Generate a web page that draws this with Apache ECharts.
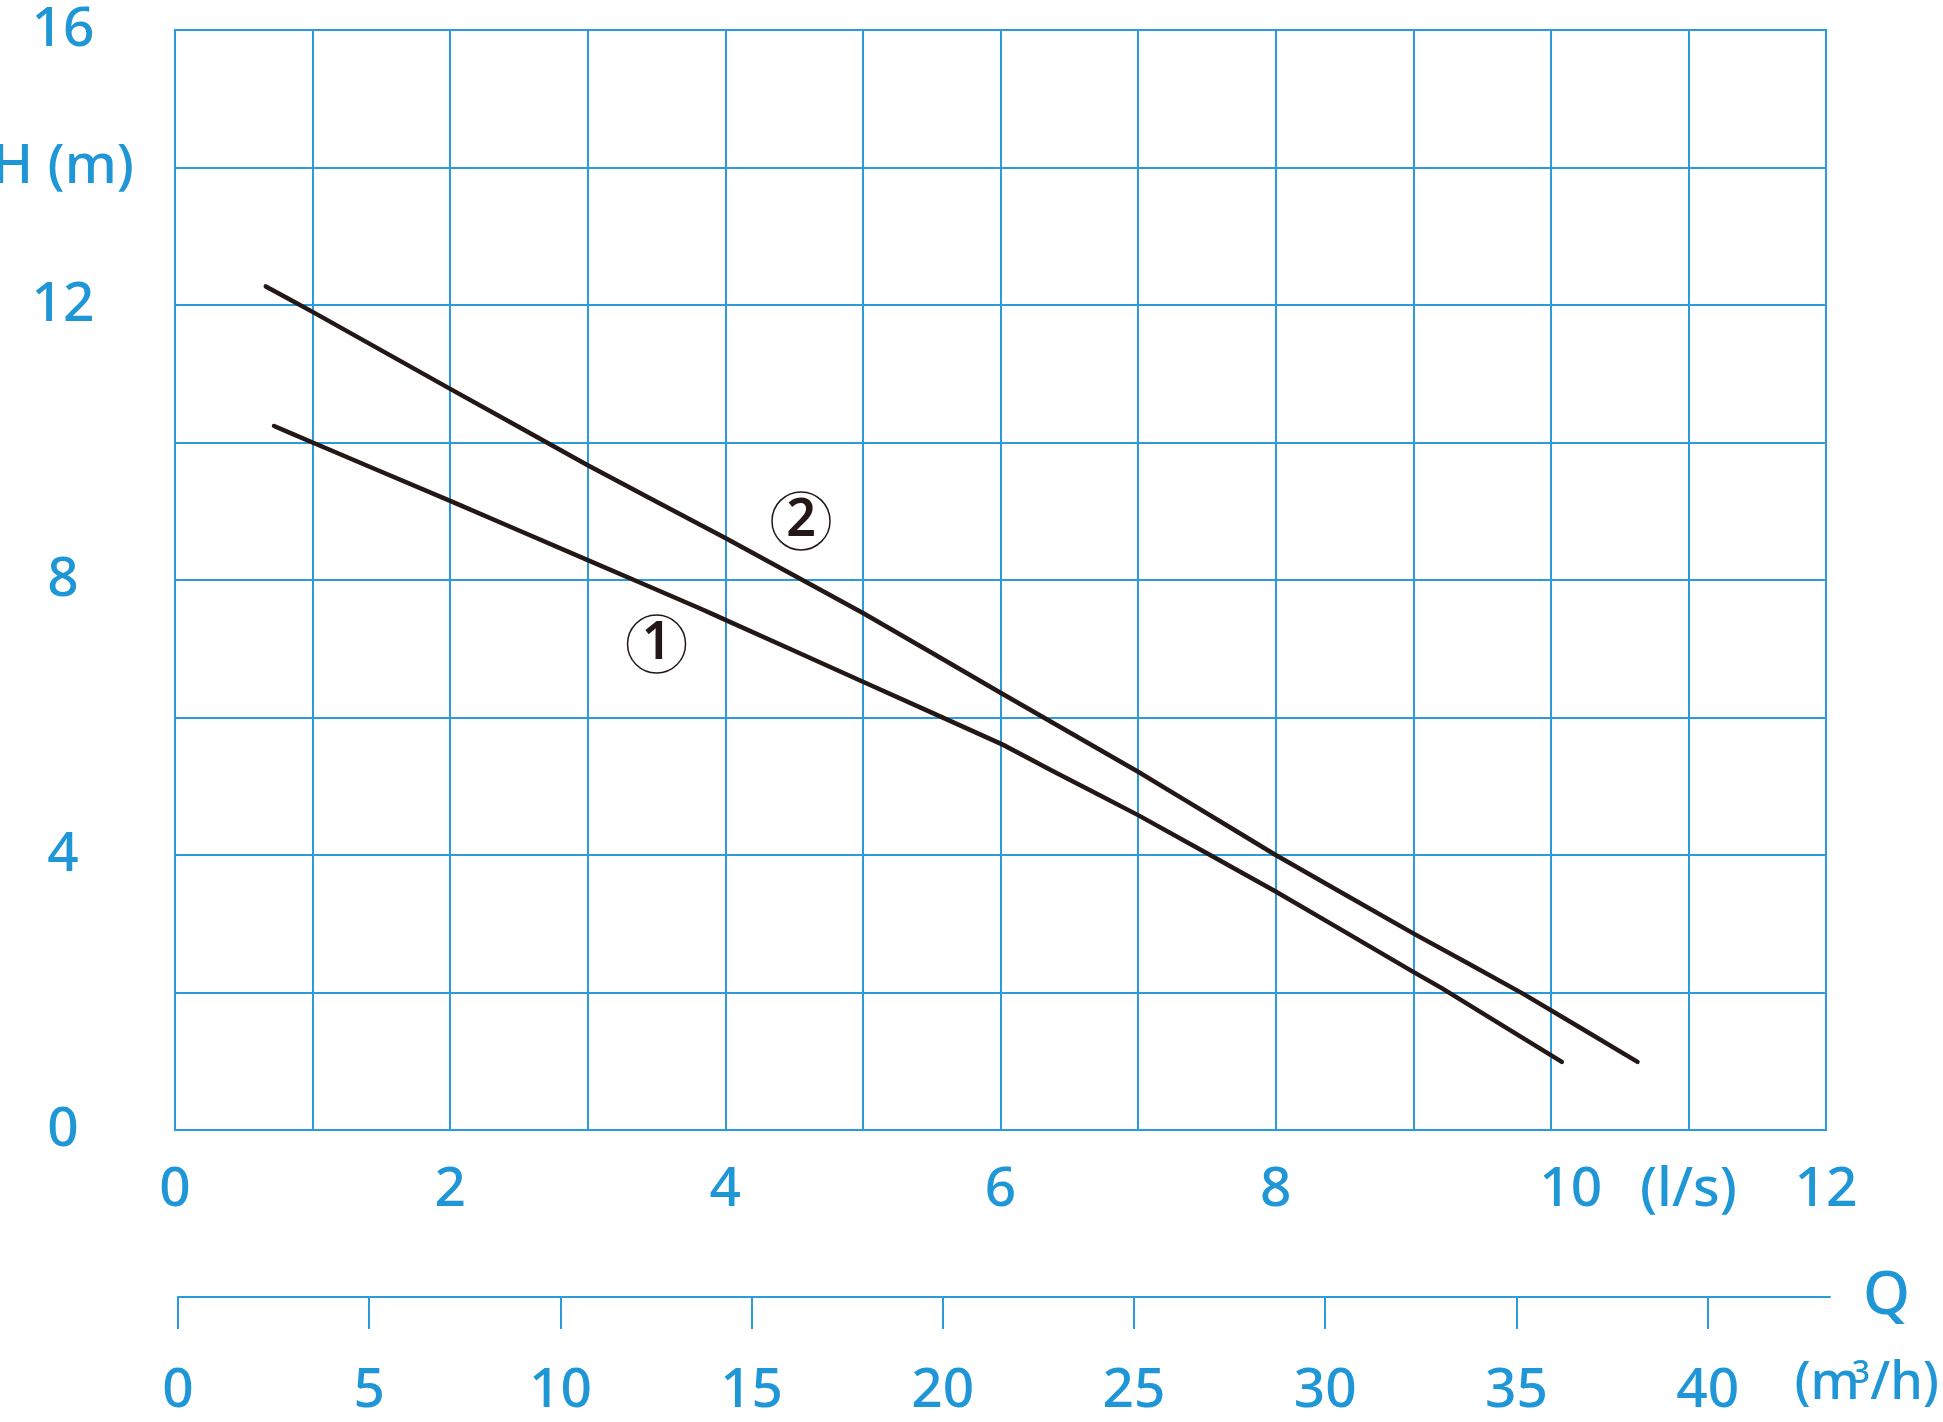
<!DOCTYPE html>
<html>
<head>
<meta charset="utf-8">
<script src="https://cdn.jsdelivr.net/npm/echarts@6/dist/echarts.min.js"></script>
<style>
html,body{margin:0;padding:0;background:#fff;}
#chart{width:1943px;height:1422px;}
</style>
</head>
<body>
<div id="chart"></div>
<script>
// ---- data ----
const curve1Q = [0.72, 1, 2, 3, 3.8, 4, 5, 6, 6.4, 7, 8, 9, 9.21, 10.08];
const curve1H = [10.24, 10.0, 9.15, 8.29, 7.6, 7.42, 6.52, 5.62, 5.2, 4.58, 3.47, 2.30, 2.06, 0.99];
const curve2Q = [0.66, 1, 2, 3, 4, 5, 6, 7, 7.67, 8, 9, 9.8, 10.63];
const curve2H = [12.27, 11.9, 10.78, 9.67, 8.61, 7.52, 6.36, 5.21, 4.40, 4.0, 2.86, 1.98, 0.99];

const annoText = ['1', '2'];
const annoQ = [3.50, 4.55];
const annoH = [7.07, 8.86];

const yLabelValues = [0, 4, 8, 12, 14, 16];
const yLabelTexts = ['0', '4', '8', '12', 'H (m)', '16'];
const xTopLabelValues = [0, 2, 4, 6, 8, 10, 11, 12];
const xTopLabelTexts = ['0', '2', '4', '6', '8', '10', '(l/s)', '12'];
const m3hTickLabels = [0, 5, 10, 15, 20, 25, 30, 35, 40];

// ---- style ----
const BLUE = '#1f96d6';
const GRID = '#2b9bdc';
const INK = '#231815';
const FONT = 'Noto Sans';
const FS = 55;
const FW = 500;

const chart = echarts.init(document.getElementById('chart'), null, {renderer: 'canvas'});

const zip = (a, b) => a.map((v, i) => [v, b[i]]);

const option = {
  backgroundColor: '#fff',
  animation: false,
  grid: [
    {left: 175, top: 30, width: 1651, height: 1100, show: true, borderColor: GRID, borderWidth: 2, containLabel: false, outerBoundsMode: 'none'},
    {left: 178, width: 1652, top: 1287, height: 10, show: false, containLabel: false, outerBoundsMode: 'none'}
  ],
  xAxis: [
    {
      type: 'value', gridIndex: 0, min: 0, max: 12, interval: 1,
      axisLine: {show: true, lineStyle: {color: GRID, width: 2}},
      axisTick: {show: false},
      splitLine: {show: true, lineStyle: {color: GRID, width: 2}},
      axisLabel: {
        show: true, color: BLUE, fontFamily: FONT, fontSize: FS, fontWeight: FW, margin: 60,
        verticalAlign: 'middle',
        formatter: function (v) {
          const i = xTopLabelValues.indexOf(v);
          if (i < 0) return '';
          if (xTopLabelTexts[i] === '10') return '{shift|10}';
          return xTopLabelTexts[i];
        },
        rich: {shift: {color: BLUE, fontFamily: FONT, fontSize: FS, fontWeight: FW, padding: [0, 0, 0, 40]}}
      }
    },
    {
      type: 'value', gridIndex: 1, min: 0, max: 43.2, interval: 5, position: 'bottom',
      axisLine: {show: true, lineStyle: {color: GRID, width: 2}},
      axisTick: {show: true, length: 32, lineStyle: {color: GRID, width: 2}},
      splitLine: {show: false},
      axisLabel: {
        show: true, color: BLUE, fontFamily: FONT, fontSize: FS, fontWeight: FW, margin: 94,
        verticalAlign: 'middle', showMaxLabel: false,
        formatter: function (v) { return m3hTickLabels.indexOf(v) >= 0 ? String(v) : ''; }
      },
      name: 'Q', nameLocation: 'end', nameGap: 33,
      nameTextStyle: {color: BLUE, fontFamily: FONT, fontSize: 60, fontWeight: FW, verticalAlign: 'middle', align: 'left', padding: [0, 0, 20, 0]}
    }
  ],
  yAxis: [
    {
      type: 'value', gridIndex: 0, min: 0, max: 16, interval: 2,
      axisLine: {show: true, lineStyle: {color: GRID, width: 2}},
      axisTick: {show: false},
      splitLine: {show: true, lineStyle: {color: GRID, width: 2}},
      axisLabel: {
        show: true, color: BLUE, fontFamily: FONT, fontSize: FS, fontWeight: FW, margin: 112,
        align: 'center', verticalAlign: 'middle',
        formatter: function (v) {
          const i = yLabelValues.indexOf(v);
          return i < 0 ? '' : yLabelTexts[i];
        }
      }
    },
    {type: 'value', gridIndex: 1, show: false, min: 0, max: 1}
  ],
  series: [
    {
      type: 'line', xAxisIndex: 0, yAxisIndex: 0, data: zip(curve1Q, curve1H),
      symbol: 'none', smooth: 0.1, z: 5,
      lineStyle: {color: INK, width: 4.5, cap: 'round', join: 'round'}
    },
    {
      type: 'line', xAxisIndex: 0, yAxisIndex: 0, data: zip(curve2Q, curve2H),
      symbol: 'none', smooth: 0.1, z: 5,
      lineStyle: {color: INK, width: 4.5, cap: 'round', join: 'round'}
    },
    {
      type: 'scatter', xAxisIndex: 0, yAxisIndex: 0, z: 6,
      data: annoQ.map((q, i) => ({value: [q, annoH[i]], label: {formatter: annoText[i]}})),
      symbol: 'circle', symbolSize: 58,
      itemStyle: {color: '#fff', borderColor: INK, borderWidth: 1.5, opacity: 1},
      label: {show: true, position: 'inside', color: INK, fontFamily: FONT, fontSize: 52, fontWeight: 600},
      emphasis: {disabled: true}
    }
  ],
  graphic: [
    {
      type: 'text', right: 4, top: 1358, z: 10,
      style: {
        text: '(m{sup|3}/h)',
        fill: BLUE, font: FW + ' 52px "' + FONT + '"',
        rich: {sup: {fontSize: 32, fontWeight: FW, fontFamily: FONT, fill: BLUE, verticalAlign: 'top', padding: [0, 0, 20, -8]}}
      }
    }
  ]
};
chart.setOption(option);
</script>
</body>
</html>
